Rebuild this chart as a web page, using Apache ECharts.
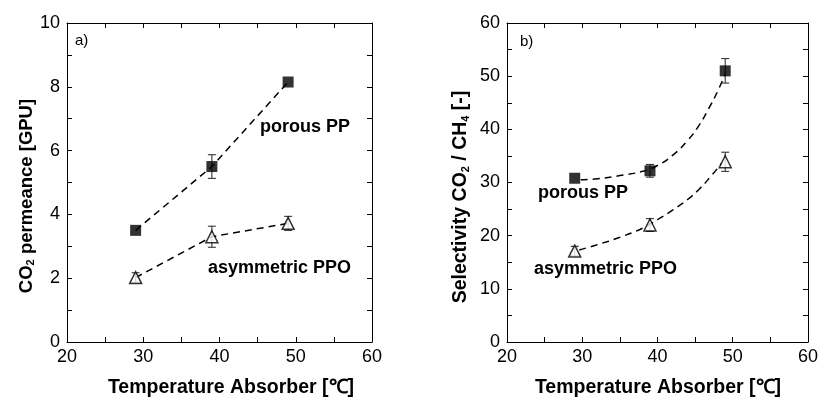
<!DOCTYPE html>
<html>
<head>
<meta charset="utf-8">
<script src="https://cdn.jsdelivr.net/npm/echarts@6/dist/echarts.min.js"></script>
<style>html,body{margin:0;padding:0;background:#fff}#c{width:821px;height:400px}</style>
</head>
<body>
<div id="c"></div>
<script>
// ---- data ----
const tempC = [29, 39, 49];
const permPP = [3.5, 5.5, 8.15];
const permPPErr = [0, 0.37, 0];
const permPPO = [2.02, 3.3, 3.72];
const permPPOErr = [0.15, 0.33, 0.22];
const selPP = [30.8, 32.2, 51.0];
const selPPErr = [0, 1.2, 2.3];
const selPPO = [17.1, 22.0, 33.9];
const selPPOErr = [0.9, 1.2, 1.8];
// dashed fit curves (panel b)
const fitPPx = [29.8, 32, 35, 38, 40, 42, 44, 45.5, 47, 48, 49];
const fitPPy = [30.5, 30.7, 31.3, 32.1, 33.2, 35.1, 37.9, 40.7, 44.4, 47.2, 50.4];
const fitPPOx = [29.6, 32, 35, 38, 40, 42, 44, 45.5, 47, 48.5];
const fitPPOy = [17.3, 18.3, 19.7, 21.4, 23.0, 24.8, 26.8, 28.7, 31.0, 33.6];

const FF = "'Liberation Sans', Arial, Helvetica, sans-serif";
const zip = (xs, ys) => xs.map((x, i) => [x, ys[i]]);
const zip3 = (xs, ys, es) => xs.map((x, i) => [x, ys[i], es[i]]);

function xAxes(grid, showLabels, pos) {
  return {
    type: 'value', gridIndex: grid, position: pos, min: 20, max: 60, interval: 10,
    axisLine: {show: true, onZero: false, lineStyle: {color: '#000', width: 1}},
    axisTick: {show: true, inside: true, length: 5, lineStyle: {color: '#000'}},
    minorTick: {show: true, splitNumber: 2, length: 5, lineStyle: {color: '#000'}},
    axisLabel: {show: showLabels, inside: false, margin: 6, color: '#000', fontSize: 18, fontFamily: FF},
    splitLine: {show: false}, minorSplitLine: {show: false}
  };
}
function yAxes(grid, showLabels, pos, max, interval) {
  return {
    type: 'value', gridIndex: grid, position: pos, min: 0, max: max, interval: interval,
    axisLine: {show: true, onZero: false, lineStyle: {color: '#000', width: 1}},
    axisTick: {show: true, inside: true, length: 5, lineStyle: {color: '#000'}},
    minorTick: {show: true, splitNumber: 2, length: 5, lineStyle: {color: '#000'}},
    axisLabel: {show: showLabels, margin: 7, color: '#000', fontSize: 18, fontFamily: FF},
    splitLine: {show: false}, minorSplitLine: {show: false}
  };
}

function errSeries(xi, yi, data) {
  return {
    type: 'custom', xAxisIndex: xi, yAxisIndex: yi, z: 3, silent: true,
    data: data,
    renderItem: function (params, api) {
      const x = api.value(0), y = api.value(1), e = api.value(2);
      if (!e) return null;
      const t = api.coord([x, y + e]);
      const b = api.coord([x, y - e]);
      const hw = 4;
      const st = {stroke: '#222', lineWidth: 1};
      return {type: 'group', children: [
        {type: 'line', shape: {x1: t[0], y1: t[1], x2: b[0], y2: b[1]}, style: st},
        {type: 'line', shape: {x1: t[0] - hw, y1: t[1], x2: t[0] + hw, y2: t[1]}, style: st},
        {type: 'line', shape: {x1: b[0] - hw, y1: b[1], x2: b[0] + hw, y2: b[1]}, style: st}
      ]};
    }
  };
}
function lineSeries(xi, yi, data, smooth) {
  return {type: 'line', xAxisIndex: xi, yAxisIndex: yi, data: data, showSymbol: false, symbol: 'none',
    smooth: smooth, z: 2, silent: true,
    lineStyle: {color: '#000', width: 1.5, type: [7, 5]}};
}
function markSeries(xi, yi, data, sym) {
  const open = sym === 'triangle';
  return {type: 'scatter', xAxisIndex: xi, yAxisIndex: yi, data: data, symbol: sym,
    symbolSize: open ? 12 : 11, z: 4, silent: true,
    itemStyle: open ? {color: '#fff', borderColor: '#000', borderWidth: 1.5} : {color: '#000'}};
}

const boldT = {fontSize: 18, fontWeight: 'bold', fontFamily: FF, fill: '#000'};
function txt(x, y, text, extra) {
  return {type: 'text', x: x, y: y, silent: true,
    style: Object.assign({text: text, align: 'left', verticalAlign: 'middle'}, boldT, extra || {})};
}
function richStyle(fs) {
  return {
    m: {fontSize: fs, fontWeight: 'bold', fontFamily: FF, lineHeight: 34, verticalAlign: 'bottom'},
    s: {fontSize: 11, fontWeight: 'bold', fontFamily: FF, lineHeight: 9, verticalAlign: 'bottom'}
  };
}

const option = {
  animation: false,
  grid: [
    {left: 67, top: 23, width: 305, height: 319},
    {left: 507, top: 23, width: 304, height: 319}
  ],
  xAxis: [xAxes(0, true, 'bottom'), xAxes(0, false, 'top'), xAxes(1, true, 'bottom'), xAxes(1, false, 'top')],
  yAxis: [yAxes(0, true, 'left', 10, 2), yAxes(0, false, 'right', 10, 2),
          yAxes(1, true, 'left', 60, 10), yAxes(1, false, 'right', 60, 10)],
  series: [
    lineSeries(0, 0, zip(tempC, permPP), false),
    lineSeries(0, 0, zip(tempC, permPPO), false),
    errSeries(0, 0, zip3(tempC, permPP, permPPErr)),
    errSeries(0, 0, zip3(tempC, permPPO, permPPOErr)),
    markSeries(0, 0, zip(tempC, permPP), 'rect'),
    markSeries(0, 0, zip(tempC, permPPO), 'triangle'),
    lineSeries(2, 2, zip(fitPPx, fitPPy), true),
    lineSeries(2, 2, zip(fitPPOx, fitPPOy), true),
    errSeries(2, 2, zip3(tempC, selPP, selPPErr)),
    errSeries(2, 2, zip3(tempC, selPPO, selPPOErr)),
    markSeries(2, 2, zip(tempC, selPP), 'rect'),
    markSeries(2, 2, zip(tempC, selPPO), 'triangle')
  ],
  graphic: [
    txt(75, 41, 'a)', {fontWeight: 'normal', fontSize: 15}),
    txt(520, 42, 'b)', {fontWeight: 'normal', fontSize: 15}),
    txt(260, 127, 'porous PP'),
    txt(208, 268, 'asymmetric PPO'),
    txt(538, 193, 'porous PP'),
    txt(534, 269, 'asymmetric PPO'),
    txt(231, 388, 'Temperature Absorber [℃]', {align: 'center', fontSize: 19.5}),
    txt(658, 388, 'Temperature Absorber [℃]', {align: 'center', fontSize: 19.5}),
    {type: 'text', x: 19, y: 196, rotation: Math.PI / 2, silent: true,
      style: {text: '{m|CO}{s|2}{m| permeance [GPU]}', rich: richStyle(18.5), align: 'center', verticalAlign: 'middle', fill: '#000'}},
    {type: 'text', x: 454, y: 197, rotation: Math.PI / 2, silent: true,
      style: {text: '{m|Selectivity CO}{s|2}{m| / CH}{s|4}{m| [-]}', rich: richStyle(19.5), align: 'center', verticalAlign: 'middle', fill: '#000'}}
  ]
};
const chart = echarts.init(document.getElementById('c'), null, {renderer: 'canvas'});
chart.setOption(option);
</script>
</body>
</html>
